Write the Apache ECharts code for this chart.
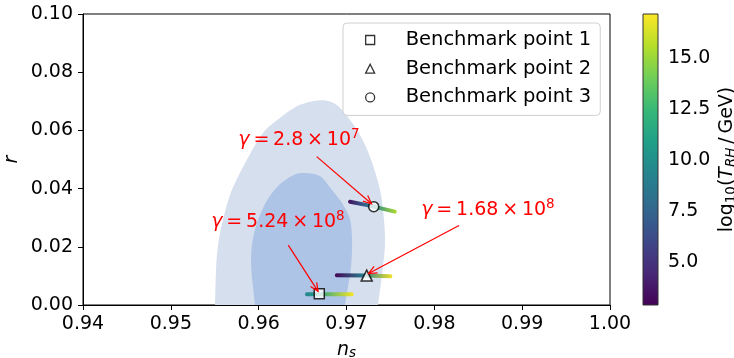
<!DOCTYPE html>
<html>
<head>
<meta charset="utf-8">
<script src="https://cdn.jsdelivr.net/npm/echarts@6/dist/echarts.min.js"></script>
<style>
html, body { margin: 0; padding: 0; background: #fff; }
#main { width: 734px; height: 358px; }
</style>
</head>
<body>
<div id="main"></div>
<script>
// confidence contours (n_s, r); the end points continue just below r = 0 and get clipped
var outerNs = [0.95495, 0.95503, 0.95520, 0.95560, 0.95674, 0.95822, 0.96050, 0.96255, 0.96471, 0.96721, 0.96892, 0.97120, 0.97268, 0.97382, 0.97427, 0.97438, 0.97404, 0.97359, 0.97350];
var outerR  = [-0.004, 0.0, 0.0150, 0.0247, 0.0378, 0.0474, 0.0591, 0.0646, 0.0688, 0.0704, 0.0687, 0.0601, 0.0509, 0.0395, 0.0292, 0.0206, 0.0103, 0.0, -0.004];
var innerNs = [0.95965, 0.95958, 0.95915, 0.95925, 0.95990, 0.96100, 0.96240, 0.96400, 0.96528, 0.96698, 0.96835, 0.96950, 0.97040, 0.97063, 0.97051, 0.96983, 0.96970];
var innerR  = [-0.004, 0.0, 0.0131, 0.0210, 0.0290, 0.0362, 0.0415, 0.0447, 0.0454, 0.0443, 0.0395, 0.0350, 0.0295, 0.0223, 0.0131, 0.0, -0.004];

// trajectories coloured by log10(T_RH/GeV)
var bp1Ns = [0.9655, 0.9669, 0.9706];
var bp1R  = [0.0037, 0.0037, 0.0037];
var bp1T  = [9.3, 11.0, 17.1];
var bp2Ns = [0.9689, 0.9720, 0.9750];
var bp2R  = [0.0102, 0.0101, 0.0099];
var bp2T  = [3.0, 9.0, 17.0];
var bp3Ns = [0.9704, 0.9722, 0.9731, 0.9755];
var bp3R  = [0.0355, 0.0344, 0.0338, 0.0321];
var bp3T  = [3.3, 7.5, 9.5, 15.5];

// benchmark points
var bpNames = ['Benchmark point 1', 'Benchmark point 2', 'Benchmark point 3'];
var bpNs = [0.9669, 0.9723, 0.9731];
var bpR  = [0.0039, 0.0101, 0.0338];

var cbarTicks = [5.0, 7.5, 10.0, 12.5, 15.0];
var tMin = 2.9, tMax = 17.15;

// gamma labels: mantissa, exponent, text centre, arrow start, arrow tip (data units)
var notes = [
    { mant: '2.8', exp: '7', at: [0.96459, 0.0567], from: [0.96661, 0.0510], to: [0.97285, 0.0348] },
    { mant: '5.24', exp: '8', at: [0.96220, 0.0285], from: [0.96337, 0.0206], to: [0.96676, 0.0047] },
    { mant: '1.68', exp: '8', at: [0.98611, 0.0326], from: [0.98281, 0.0273], to: [0.97251, 0.0108] }
];

var VIRIDIS = ['#440154', '#482878', '#3e4989', '#31688e', '#26828e', '#1f9e89', '#35b779', '#6ece58', '#b5de2b', '#fde725'];
var FONT = 'DejaVu Sans';
var FS = 19;

function hexRgb(h) {
    return [parseInt(h.substr(1, 2), 16), parseInt(h.substr(3, 2), 16), parseInt(h.substr(5, 2), 16)];
}
function viridis(t) {
    t = Math.max(0, Math.min(1, t));
    var p = t * (VIRIDIS.length - 1);
    var i = Math.min(Math.floor(p), VIRIDIS.length - 2);
    var f = p - i;
    var a = hexRgb(VIRIDIS[i]), b = hexRgb(VIRIDIS[i + 1]);
    var c = a.map(function (v, k) { return Math.round(v + (b[k] - v) * f); });
    return 'rgb(' + c.join(',') + ')';
}
function trackGradient(ns, T) {
    var x0 = ns[0], x1 = ns[ns.length - 1];
    var stops = ns.map(function (x, i) {
        return { offset: (x - x0) / (x1 - x0), color: viridis((T[i] - tMin) / (tMax - tMin)) };
    });
    return new echarts.graphic.LinearGradient(0, 0, 1, 0, stops);
}
function zip(a, b) { return a.map(function (v, i) { return [v, b[i]]; }); }

function contourSeries(ns, r, color) {
    return {
        type: 'custom', xAxisIndex: 0, yAxisIndex: 0, z: 1, silent: true, clip: true,
        data: [[ns[1], r[1]]],
        renderItem: function (params, api) {
            var pts = ns.map(function (x, i) { return api.coord([x, r[i]]); });
            return { type: 'polygon', shape: { points: pts, smooth: 0.3 }, style: { fill: color } };
        }
    };
}
function trackSeries(ns, r, T) {
    return {
        type: 'line', xAxisIndex: 0, yAxisIndex: 0, z: 3, silent: true,
        showSymbol: false, symbol: 'none',
        data: zip(ns, r),
        lineStyle: { width: 4, cap: 'round', color: trackGradient(ns, T) }
    };
}

var symbols = ['rect', 'triangle', 'circle'];
var pointSeries = bpNames.map(function (name, i) {
    return {
        name: name, type: 'scatter', xAxisIndex: 0, yAxisIndex: 0, z: 4,
        symbol: symbols[i], symbolSize: i === 1 ? 11 : 10,
        itemStyle: { color: '#fff', borderColor: '#000', borderWidth: 1.5 },
        data: [[bpNs[i], bpR[i]]]
    };
});

var noteSeries = {
    type: 'custom', xAxisIndex: 0, yAxisIndex: 0, z: 5, silent: true,
    data: notes.map(function (n) { return n.at; }),
    renderItem: function (params, api) {
        var n = notes[params.dataIndex];
        var t = api.coord(n.at), a = api.coord(n.from), b = api.coord(n.to);
        var ang = Math.atan2(b[1] - a[1], b[0] - a[0]);
        var hl = 9, hw = 0.42;
        var h1 = [b[0] - hl * Math.cos(ang - hw), b[1] - hl * Math.sin(ang - hw)];
        var h2 = [b[0] - hl * Math.cos(ang + hw), b[1] - hl * Math.sin(ang + hw)];
        return {
            type: 'group',
            children: [
                { type: 'line', shape: { x1: a[0], y1: a[1], x2: b[0], y2: b[1] }, style: { stroke: '#ff0000', lineWidth: 1.2 } },
                { type: 'polyline', shape: { points: [h1, b, h2] }, style: { stroke: '#ff0000', lineWidth: 1.2, fill: null } },
                {
                    type: 'text', x: t[0], y: t[1],
                    style: {
                        text: '{g|\u03b3}\u2009=\u2009' + n.mant + '\u2009\u00d7\u200910{sup|' + n.exp + '}',
                        fill: '#ff0000', fontFamily: FONT, fontSize: FS, lineHeight: 25,
                        align: 'center', verticalAlign: 'middle',
                        rich: {
                            g: { fontStyle: 'italic', fontSize: FS, lineHeight: 25, fontFamily: FONT, fill: '#ff0000' },
                            sup: { fontSize: 13.5, lineHeight: 13.5, verticalAlign: 'top', fontFamily: FONT, fill: '#ff0000' }
                        }
                    }
                }
            ]
        };
    }
};

var cbarSeries = {
    type: 'custom', xAxisIndex: 1, yAxisIndex: 1, silent: true,
    data: [[0, tMin]],
    renderItem: function (params, api) {
        var p0 = api.coord([0, tMin]), p1 = api.coord([1, tMax]);
        var stops = VIRIDIS.map(function (c, i) { return { offset: i / (VIRIDIS.length - 1), color: c }; });
        return {
            type: 'rect',
            shape: { x: p0[0], y: p1[1], width: p1[0] - p0[0], height: p0[1] - p1[1] },
            style: { fill: new echarts.graphic.LinearGradient(0, 1, 0, 0, stops), stroke: '#333', lineWidth: 1 }
        };
    }
};

var axisBase = {
    axisLine: { show: true, lineStyle: { color: '#000', width: 1 } },
    axisTick: { show: true, length: 5, lineStyle: { color: '#000', width: 1 } },
    splitLine: { show: false }
};
var labelBase = { fontSize: FS, color: '#000', fontFamily: FONT };

var myChart = echarts.init(document.getElementById('main'));
var option = {
    animation: false,
    grid: [
        { left: 83, top: 14, width: 527, height: 291, outerBoundsMode: 'none', containLabel: false,
          show: true, borderColor: '#000', borderWidth: 1, backgroundColor: 'transparent' },
        { left: 643, top: 14, width: 15, height: 291, outerBoundsMode: 'none', containLabel: false }
    ],
    legend: {
        data: bpNames,
        orient: 'vertical',
        left: 343, top: 23,
        padding: [7, 9, 8, 22],
        itemGap: 8.7,
        itemWidth: 9, itemHeight: 9,
        itemStyle: { color: '#fff', borderColor: '#000', borderWidth: 1.3 },
        textStyle: { fontSize: 19.5, color: '#000', fontFamily: FONT, lineHeight: 20, padding: [0, 0, 0, 26] },
        backgroundColor: 'rgba(255,255,255,0.8)',
        borderColor: '#d0d0d0', borderWidth: 1, borderRadius: 4
    },
    xAxis: [
        Object.assign({}, axisBase, {
            gridIndex: 0, type: 'value', min: 0.94, max: 1.0, interval: 0.01, z: 10,
            axisLabel: Object.assign({}, labelBase, { margin: 10, formatter: function (v) { return v.toFixed(2); } }),
            name: '{i|n}{s|s}', nameLocation: 'middle', nameGap: 28,
            nameTextStyle: {
                color: '#000', fontFamily: FONT, fontSize: FS, lineHeight: 22,
                rich: {
                    i: { fontStyle: 'italic', fontSize: FS, lineHeight: 22, fontFamily: FONT },
                    s: { fontStyle: 'italic', fontSize: 13.5, lineHeight: 13.5, verticalAlign: 'bottom', fontFamily: FONT }
                }
            }
        }),
        { gridIndex: 1, type: 'value', min: 0, max: 1, show: false }
    ],
    yAxis: [
        Object.assign({}, axisBase, {
            gridIndex: 0, type: 'value', min: 0, max: 0.1, interval: 0.02, z: 10,
            axisLabel: Object.assign({}, labelBase, { margin: 10, formatter: function (v) { return v.toFixed(2); } }),
            name: 'r', nameLocation: 'middle', nameGap: 61, nameRotate: 90, nameMoveOverlap: false,
            nameTextStyle: { color: '#000', fontFamily: FONT, fontSize: FS, fontStyle: 'italic' }
        }),
        {
            gridIndex: 1, type: 'value', min: tMin, max: tMax, position: 'right',
            axisLine: { show: false },
            splitLine: { show: false },
            axisTick: { show: true, length: 5, customValues: cbarTicks, lineStyle: { color: '#000' } },
            axisLabel: Object.assign({}, labelBase, {
                customValues: cbarTicks, margin: 10,
                formatter: function (v) { return v.toFixed(1); }
            }),
            name: 'log{sub|10}({i|T}{isub|RH}\u2009/\u2009GeV)',
            nameLocation: 'middle', nameRotate: 90, nameGap: 58,
            nameTextStyle: {
                color: '#000', fontFamily: FONT, fontSize: FS, lineHeight: 22,
                rich: {
                    sub: { fontSize: 13.5, lineHeight: 13.5, verticalAlign: 'bottom', fontFamily: FONT },
                    i: { fontStyle: 'italic', fontSize: FS, lineHeight: 22, fontFamily: FONT },
                    isub: { fontStyle: 'italic', fontSize: 13.5, lineHeight: 13.5, verticalAlign: 'bottom', fontFamily: FONT }
                }
            }
        }
    ],
    series: [
        contourSeries(outerNs, outerR, '#d5dfed'),
        contourSeries(innerNs, innerR, '#aec4e7'),
        trackSeries(bp1Ns, bp1R, bp1T),
        trackSeries(bp2Ns, bp2R, bp2T),
        trackSeries(bp3Ns, bp3R, bp3T)
    ].concat(pointSeries).concat([noteSeries, cbarSeries])
};
myChart.setOption(option);
</script>
</body>
</html>
